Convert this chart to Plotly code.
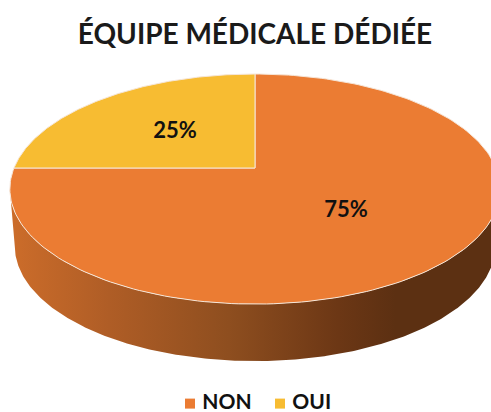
import numpy as np
import plotly.graph_objects as go

TITLE = "ÉQUIPE MÉDICALE DÉDIÉE"
LABELS = ["NON", "OUI"]
VALUES = [75, 25]
COLORS = ["#EB7C33", "#F7BC32"]
SIDE_STOPS = [
    [0.0, "#CB6C2A"],
    [0.2, "#AF5D26"],
    [0.45, "#8E4E1F"],
    [0.68, "#6C3715"],
    [0.8, "#5C3012"],
    [1.0, "#5C3012"],
]

# pie centre on the page and the perspective of the tilted disc
CX, CY = 255, 168
RX, RY, TILT = 241, 111.2, 0.183
DEPTH, BOTTOM_SCALE = 57, 0.98

FONT = "Lato"


def project(theta, r=1.0):
    """Disc angle (clockwise from the top) to page coordinates."""
    px_x = r * np.sin(theta)
    px_y = r * np.cos(theta)
    w = 1 + TILT * px_y
    return CX + RX * px_x / w, CY - RY * px_y / w


def wedge(start, stop):
    t = np.linspace(start, stop, 200)
    x, y = project(t)
    return np.r_[CX, x, CX], np.r_[CY, y, CY]


fig = go.Figure()

# side wall: lower outline of the top face, then the bottom rim coming back
t = np.linspace(0, 2 * np.pi, 721)
top_x, top_y = project(t)
right, left = int(np.argmax(top_x)), int(np.argmin(top_x))
rim = t[right:left + 1]
rim_x, rim_y = project(rim)
low_x = CX + (rim_x - CX) * BOTTOM_SCALE
low_y = rim_y + DEPTH
fig.add_trace(go.Scatter(
    x=np.r_[rim_x, low_x[::-1]],
    y=np.r_[rim_y, low_y[::-1]],
    mode="lines",
    line=dict(width=0),
    fill="toself",
    fillgradient=dict(type="horizontal", colorscale=SIDE_STOPS, start=14, stop=491),
    hoverinfo="skip",
))

# top face, NON starts at twelve o'clock and runs clockwise
shares = np.array(VALUES) / sum(VALUES)
edges = np.r_[0, np.cumsum(shares)] * 2 * np.pi
for i, color in enumerate(COLORS):
    x, y = wedge(edges[i], edges[i + 1])
    fig.add_trace(go.Scatter(
        x=x, y=y,
        mode="lines",
        line=dict(color="#F6E6D8", width=1),
        fill="toself",
        fillcolor=color,
        name=LABELS[i],
        hoverinfo="name",
    ))

# percentage labels halfway along each slice
mid = (edges[:-1] + edges[1:]) / 2
lab_x, lab_y = project(mid, 0.5)
fig.add_trace(go.Scatter(
    x=lab_x, y=lab_y + 1,
    mode="text",
    text=[f"{v}%" for v in VALUES],
    textposition="middle center",
    textfont=dict(family=FONT, size=22, color="#111111", weight="bold"),
    hoverinfo="skip",
))

# legend row
for label, color, mx in zip(LABELS, COLORS, [190, 280]):
    fig.add_trace(go.Scatter(
        x=[mx], y=[403.6],
        mode="markers+text",
        marker=dict(symbol="square", size=10, color=color),
        text=["\u00a0" + label],
        textposition="middle right",
        textfont=dict(family=FONT, size=21, color="#111111", weight="bold"),
        hoverinfo="skip",
    ))

fig.update_layout(
    width=491,
    height=412,
    margin=dict(l=0, r=0, t=0, b=0),
    paper_bgcolor="white",
    plot_bgcolor="white",
    showlegend=False,
    xaxis=dict(range=[0, 491], visible=False, fixedrange=True),
    yaxis=dict(range=[412, 0], visible=False, fixedrange=True),
    title=dict(
        text=TITLE,
        x=255 / 491,
        xanchor="center",
        y=1 - 34 / 412,
        yanchor="middle",
        font=dict(family=FONT, size=28, color="#1A1A1A", weight="bold"),
    ),
)

# the page's default body margin would push the figure 8px in
fig.write_html(
    "out.html",
    config={"displayModeBar": False},
    post_script="document.body.style.margin = '0';",
)
